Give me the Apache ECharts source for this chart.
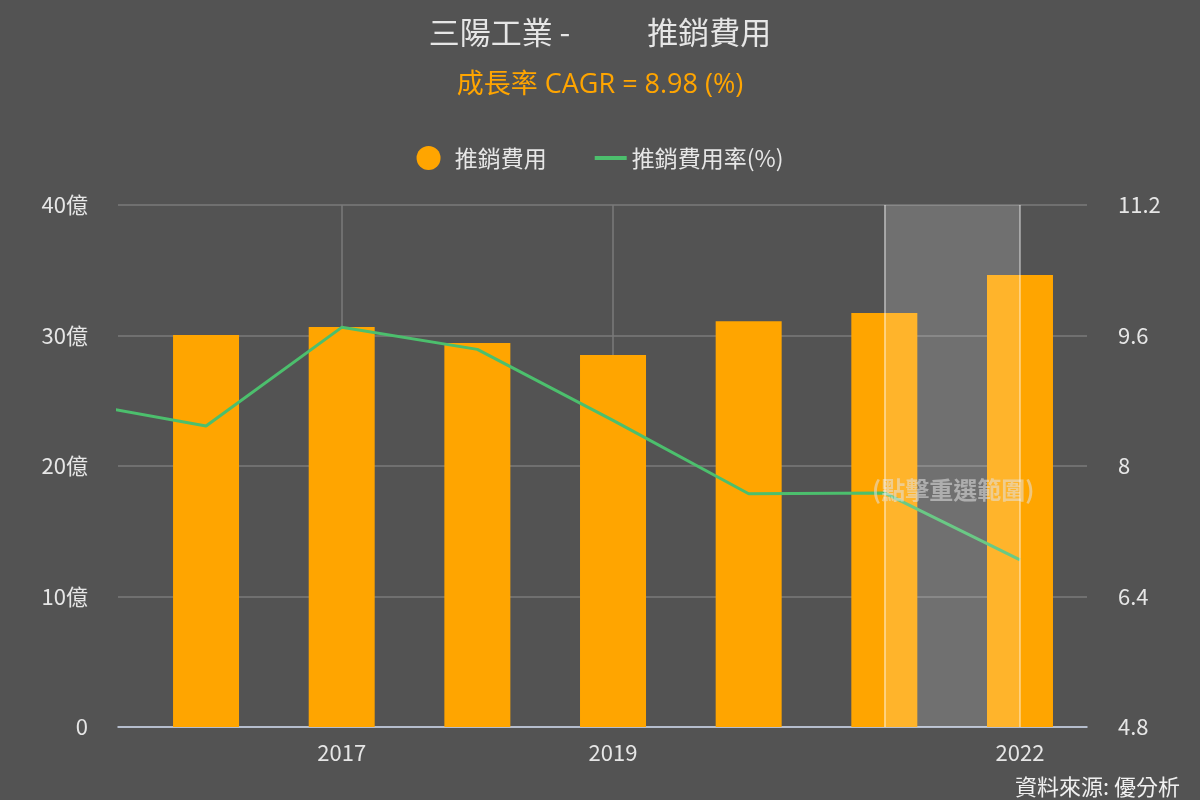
<!DOCTYPE html>
<html>
<head>
<meta charset="utf-8">
<script src="https://cdn.jsdelivr.net/npm/echarts@6/dist/echarts.min.js"></script>
<style>
html,body{margin:0;padding:0;background:#535353;}
#chart{width:1200px;height:800px;}
</style>
</head>
<body>
<div id="chart"></div>
<script>
// ---- data ----
const years = [2016, 2017, 2018, 2019, 2020, 2021, 2022];
const expense = [30.04, 30.65, 29.43, 28.50, 31.10, 31.72, 34.64]; // 億
const rateYears = [2015, 2016, 2017, 2018, 2019, 2020, 2021, 2022];
const rate = [8.79, 8.49, 9.70, 9.43, 8.56, 7.66, 7.67, 6.85]; // %
const xLabelYears = [2017, 2019, 2022];
const gridLineYears = [2017, 2019];
const selectRange = [2021, 2022];
const leftTicks = {min: 0, max: 40, interval: 10};
const rightTicks = {min: 4.8, max: 11.2, interval: 1.6};

const FONT = '"Noto Sans CJK TC", "Noto Sans", sans-serif';
const chart = echarts.init(document.getElementById('chart'));

const option = {
  backgroundColor: '#535353',
  textStyle: {fontFamily: FONT},
  title: [
    {
      text: '{a|三陽工業 -}{gap|}{a|推銷費用}',
      left: 'center', top: 12,
      textStyle: {
        fontWeight: 'normal',
        rich: {
          a: {fontSize: 31, color: '#e6e6e6', fontFamily: FONT, fontWeight: 'normal'},
          gap: {width: 77}
        }
      }
    },
    {
      text: '成長率 CAGR = 8.98 (%)',
      left: 'center', top: 67,
      textStyle: {fontSize: 27, color: '#FFA500', fontWeight: 'normal',
        fontFamily: '"Open Sans", "Noto Sans CJK TC", sans-serif'}
    }
  ],
  legend: {
    top: 141, left: 'center',
    itemWidth: 32, itemHeight: 24, itemGap: 46,
    textStyle: {color: '#e6e6e6', fontSize: 23, fontFamily: FONT},
    formatter: name => name === '推銷費用' ? ' ' + name : name,
    data: [
      {name: '推銷費用', icon: 'circle'},
      {name: '推銷費用率(%)', itemStyle: {opacity: 0}, lineStyle: {width: 4}}
    ]
  },
  grid: {left: 118, right: 113, top: 205, bottom: 73},
  xAxis: {
    type: 'value',
    min: 2015.351, max: 2022.494,
    axisLine: {show: true, lineStyle: {color: '#ccd6eb', width: 1.5}},
    axisTick: {show: false, customValues: gridLineYears},
    splitLine: {show: true, lineStyle: {color: '#7a7a7a', width: 1.5}},
    axisLabel: {
      customValues: xLabelYears,
      color: '#e6e6e6', fontSize: 22, margin: 15,
      formatter: v => String(v)
    }
  },
  yAxis: [
    {
      type: 'value', ...leftTicks,
      axisLine: {show: false}, axisTick: {show: false},
      splitLine: {lineStyle: {color: '#7a7a7a', width: 1.5}},
      axisLabel: {color: '#e6e6e6', fontSize: 22, margin: 30,
        formatter: v => v === 0 ? '0' : v + '億'}
    },
    {
      type: 'value', ...rightTicks,
      axisLine: {show: false}, axisTick: {show: false},
      splitLine: {show: false},
      axisLabel: {color: '#e6e6e6', fontSize: 22, margin: 31,
        formatter: v => String(parseFloat(v.toFixed(1)))}
    }
  ],
  series: [
    {
      name: '推銷費用', type: 'bar', z: 2,
      barWidth: 66,
      itemStyle: {color: '#FFA500'},
      data: years.map((y, i) => [y, expense[i]])
    },
    {
      name: '推銷費用率(%)', type: 'line', yAxisIndex: 1, z: 3,
      symbol: 'none', clip: true,
      lineStyle: {color: '#4CBF6D', width: 3},
      itemStyle: {color: '#4CBF6D'},
      data: rateYears.map((y, i) => [y, rate[i]])
    },
    {
      name: 'select', type: 'line', data: [], z: 10, silent: true,
      markArea: {
        z: 10,
        silent: true,
        itemStyle: {color: 'rgba(255,255,255,0.17)'},
        label: {
          show: true, position: 'inside', offset: [1, 24],
          overflow: 'none', width: 300,
          formatter: '(點擊重選範圍)',
          color: 'rgba(225,225,225,0.55)', fontSize: 24, fontWeight: 'bold', fontFamily: FONT
        },
        data: [[{xAxis: selectRange[0]}, {xAxis: selectRange[1]}]]
      },
      markLine: {
        z: 11,
        silent: true, symbol: 'none', label: {show: false},
        lineStyle: {color: 'rgba(255,255,255,0.4)', width: 2, type: 'solid'},
        data: selectRange.map(y => ({xAxis: y}))
      }
    }
  ],
  graphic: [
    {
      type: 'text', right: 20, bottom: 2,
      style: {text: '資料來源: 優分析', fill: '#f0f0f0', fontSize: 22, fontFamily: FONT}
    }
  ]
};
chart.setOption(option);
</script>
</body>
</html>
